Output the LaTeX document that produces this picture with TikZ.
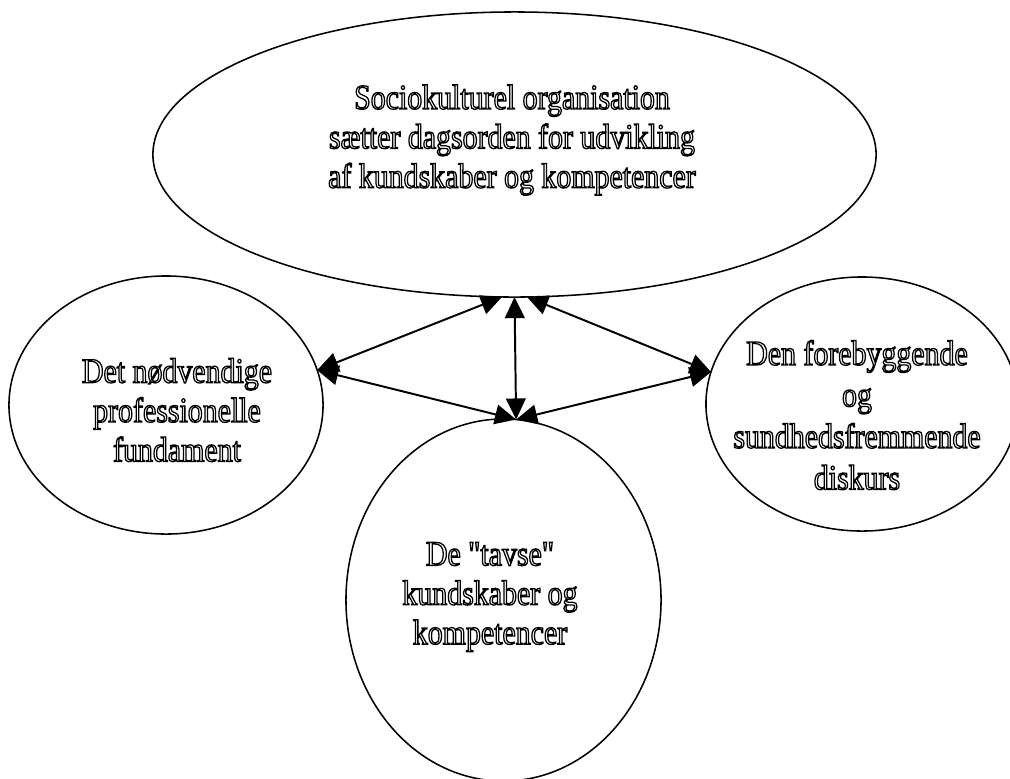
\documentclass[tikz,border=0pt]{standalone}
\usepackage{fontspec}
\setmainfont[FakeStretch=0.85, Ligatures=TeXOff]{Liberation Serif}
\usepackage{tikz}
\usetikzlibrary{positioning,arrows.meta,shapes}

% outlined text (stroke only)
\newcommand{\hollow}[1]{\special{pdf:literal direct 1 Tr 0.9 w}#1\special{pdf:literal direct 0 Tr}}

\begin{document}
\begin{tikzpicture}[
    x=0.025cm, y=-0.025cm,
    bubble/.style={ellipse, draw=black, line width=1.1pt, inner sep=0pt, outer sep=0pt},
    caption/.style={align=center, font=\fontsize{25}{28}\selectfont, inner sep=0pt},
    arrow/.style={{Triangle[length=15pt,width=14pt]}-{Triangle[length=15pt,width=14pt]}, line width=1.4pt}
]
\useasboundingbox (0,0) rectangle (1010,778);
\clip (0,0) rectangle (1010,778);

% Ellipses
\node (soc) [bubble, minimum width=18.075cm, minimum height=7.125cm] at (514.5,154.5) {};
\node (prof) [bubble, minimum width=7.85cm, minimum height=6.45cm] at (166,405) {};
\node (disk) [bubble, minimum width=7.8cm, minimum height=6.35cm] at (862,404) {};
\node (tavs) [bubble, minimum width=7.875cm, minimum height=9.05cm] at (503.5,600) {};

% Texts
\node (socT) [caption] at (512,140) {\hollow{Sociokulturel organisation}\\\hollow{sætter dagsorden for udvikling}\\\hollow{af kundskaber og kompetencer}};
\node (profT) [caption] at (177,410) {\hollow{Det nødvendige}\\\hollow{professionelle}\\\hollow{fundament}};
\node (diskT) [caption, font=\fontsize{25}{29.5}\selectfont] at (857,415) {\hollow{Den forebyggende}\\\hollow{og}\\\hollow{sundhedsfremmende}\\\hollow{diskurs}};
\node (tavsT) [caption] at (490,597) {\hollow{De "tavse"}\\\hollow{kundskaber og}\\\hollow{kompetencer}};

% Arrows
\draw[arrow] (soc.265) -- (prof.13);
\draw[arrow] (soc.270) -- (tavs.86);
\draw[arrow] (soc.275) -- (disk.168);
\draw[arrow] (prof.13) -- (tavs.86);
\draw[arrow] (tavs.86) -- (disk.168);

\end{tikzpicture}
\end{document}
